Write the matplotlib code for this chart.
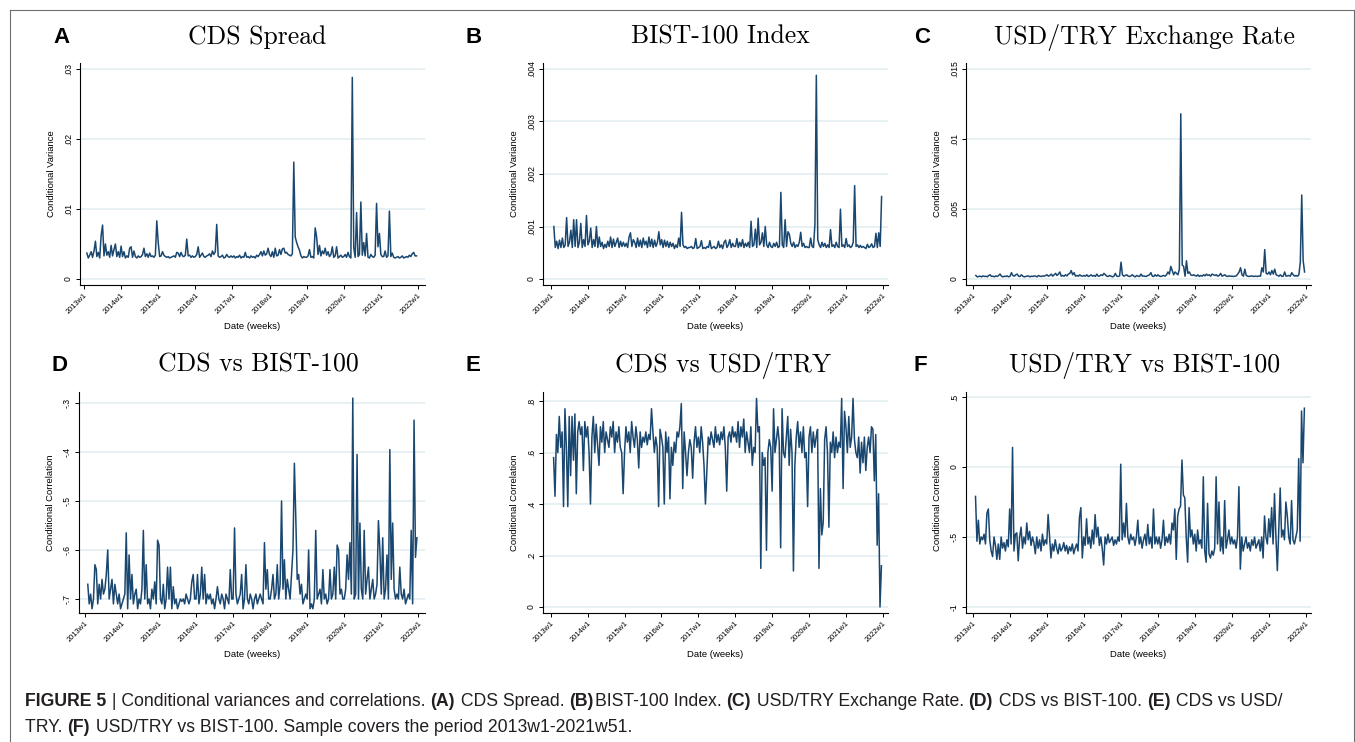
import numpy as np
import matplotlib
matplotlib.use('Agg')
from matplotlib import pyplot as plt
from matplotlib.lines import Line2D

# Biweekly readings, 2013w5 .. 2021w51 (one row per year)
YEARS = list(range(2013, 2022))
year_ticks = list(range(2013, 2023))
year_labels = ['%dw1' % y for y in year_ticks]

# conditional variances, in units of 1e-3
cds_var = [
    3.7, 3.0, 3.4, 3.9, 3.1, 4.0, 5.4, 3.2, 3.8, 3.0, 6.2, 7.7, 3.3, 5.0, 3.4, 3.9, 3.1, 4.8, 3.3, 4.2, 5.0, 3.2, 3.9, 3.1,
    4.7, 3.2, 3.9, 3.0, 3.3, 3.1, 4.4, 4.6, 3.1, 4.0, 3.2, 3.0, 3.3, 3.1, 3.2, 3.5, 4.4, 3.2, 3.6, 3.1, 3.7, 3.2, 3.3, 3.1, 3.4, 8.3,
    5.2, 3.2, 3.3, 3.9, 3.4, 3.2, 3.1, 3.2, 3.0, 3.1, 3.2, 3.3, 3.1, 3.8, 3.7, 3.2, 3.8, 3.3, 3.2, 3.4, 5.7, 3.3, 3.4, 3.1, 3.3, 3.1,
    3.2, 3.5, 4.6, 3.1, 3.4, 3.7, 3.2, 3.1, 3.3, 3.4, 3.6, 3.2, 4.0, 3.5, 3.9, 7.8, 3.3, 3.1, 3.2, 3.4, 3.0, 3.1, 3.5, 3.2, 3.1, 3.3,
    3.1, 3.3, 3.0, 3.2, 3.1, 3.4, 3.0, 3.2, 3.1, 3.8, 3.1, 3.2, 3.0, 3.3, 3.1, 3.2, 3.0, 3.4, 3.2, 3.5, 3.9, 3.3, 4.0, 3.4, 3.6, 4.4,
    3.5, 3.2, 3.9, 3.1, 4.4, 3.3, 3.4, 4.2, 3.5, 4.3, 4.4, 3.7, 3.8, 3.5, 3.4, 3.3, 3.6, 16.7, 6.0, 5.2, 4.6, 4.1, 3.3, 3.0, 3.2, 3.1,
    3.1, 3.3, 4.2, 3.1, 3.2, 3.0, 7.3, 6.0, 3.5, 4.8, 3.3, 4.0, 3.6, 4.4, 3.4, 3.9, 3.2, 3.5, 4.6, 3.1, 3.3, 4.6, 3.0, 3.2, 3.4, 3.1,
    3.2, 3.5, 3.1, 3.8, 3.2, 3.0, 28.8, 4.5, 3.1, 9.5, 3.2, 3.5, 11.0, 3.4, 5.2, 3.3, 6.5, 3.1, 3.0, 3.5, 3.2, 3.1, 3.4, 10.8, 4.6, 6.5,
    3.5, 3.2, 3.2, 4.0, 3.1, 3.3, 9.7, 3.2, 3.7, 3.1, 3.0, 3.1, 3.2, 3.0, 3.1, 3.3, 3.0, 3.1, 3.2, 3.1, 3.4, 3.2, 3.6, 3.8, 3.3, 3.3,
]
bist_var = [
    1.0, 0.6, 0.72, 0.58, 0.74, 0.6, 0.78, 0.6, 0.65, 1.17, 0.62, 0.7, 0.93, 0.6, 1.13, 0.62, 1.13, 0.6, 0.7, 1.06, 0.6, 0.75, 0.62, 1.21,
    0.65, 0.72, 0.97, 0.6, 0.75, 0.62, 1.0, 0.6, 0.8, 0.62, 0.7, 0.58, 0.66, 0.6, 0.72, 0.62, 0.8, 0.6, 0.76, 0.62, 0.7, 0.78, 0.6, 0.72, 0.62, 0.7,
    0.62, 0.68, 0.6, 0.8, 0.88, 0.62, 0.75, 0.7, 0.6, 0.78, 0.62, 0.74, 0.6, 0.78, 0.65, 0.72, 0.6, 0.8, 0.62, 0.76, 0.6, 0.74, 0.62, 0.7, 0.9, 0.65,
    0.75, 0.6, 0.74, 0.62, 0.72, 0.6, 0.7, 0.62, 0.68, 0.58, 0.65, 0.6, 0.78, 0.62, 1.27, 0.65, 0.6, 0.62, 0.58, 0.6, 0.6, 0.62, 0.58, 0.6, 0.77, 0.58,
    0.6, 0.62, 0.73, 0.58, 0.6, 0.58, 0.62, 0.6, 0.73, 0.58, 0.6, 0.62, 0.58, 0.6, 0.72, 0.6, 0.65, 0.58, 0.7, 0.74, 0.6, 0.65, 0.75, 0.6, 0.68, 0.62,
    0.62, 0.77, 0.6, 0.7, 0.62, 0.75, 0.6, 0.68, 0.62, 0.7, 0.6, 1.1, 0.62, 0.65, 0.95, 0.6, 1.16, 0.65, 0.7, 0.88, 0.62, 1.0, 0.65, 0.6, 0.7, 0.62,
    0.6, 0.68, 0.62, 0.7, 0.6, 0.62, 1.65, 0.65, 0.6, 1.13, 0.62, 0.9, 0.85, 0.68, 0.62, 0.7, 0.6, 0.65, 0.62, 0.7, 0.89, 0.62, 0.68, 0.6, 0.62, 0.6,
    0.6, 0.78, 0.62, 0.6, 1.04, 3.88, 0.75, 0.65, 0.6, 0.7, 0.62, 0.68, 0.6, 0.65, 0.6, 0.94, 0.62, 0.65, 0.6, 0.7, 0.62, 0.6, 1.33, 0.62, 0.65, 0.6,
    0.77, 0.62, 0.65, 0.6, 0.62, 0.7, 1.78, 0.62, 0.65, 0.6, 0.64, 0.6, 0.62, 0.6, 0.58, 0.66, 0.6, 0.62, 0.67, 0.6, 0.62, 0.87, 0.6, 0.88, 0.62, 1.57,
]
usd_var = [
    0.25, 0.15, 0.18, 0.2, 0.15, 0.22, 0.18, 0.2, 0.15, 0.25, 0.3, 0.18, 0.2, 0.15, 0.22, 0.18, 0.25, 0.35, 0.2, 0.15, 0.2, 0.18, 0.22, 0.15,
    0.2, 0.45, 0.25, 0.2, 0.3, 0.35, 0.2, 0.18, 0.3, 0.2, 0.15, 0.18, 0.2, 0.22, 0.15, 0.2, 0.18, 0.22, 0.2, 0.15, 0.25, 0.2, 0.18, 0.22, 0.2, 0.25,
    0.3, 0.2, 0.25, 0.35, 0.2, 0.3, 0.4, 0.25, 0.35, 0.5, 0.2, 0.25, 0.2, 0.3, 0.22, 0.35, 0.4, 0.6, 0.3, 0.45, 0.2, 0.25, 0.2, 0.3, 0.22, 0.2,
    0.25, 0.2, 0.3, 0.18, 0.22, 0.3, 0.2, 0.25, 0.18, 0.35, 0.2, 0.22, 0.3, 0.25, 0.4, 0.3, 0.2, 0.18, 0.25, 0.2, 0.15, 0.2, 0.4, 0.2, 0.18, 0.22,
    1.2, 0.3, 0.2, 0.25, 0.3, 0.2, 0.18, 0.22, 0.3, 0.2, 0.15, 0.25, 0.2, 0.18, 0.35, 0.2, 0.22, 0.18, 0.2, 0.25, 0.3, 0.45, 0.2, 0.18, 0.3, 0.2,
    0.3, 0.2, 0.18, 0.22, 0.25, 0.2, 0.3, 0.5, 0.35, 0.9, 0.6, 0.3, 0.5, 0.4, 0.3, 0.7, 11.8, 1.0, 0.9, 0.2, 1.3, 0.4, 0.5, 0.3, 0.25, 0.3,
    0.25, 0.2, 0.3, 0.18, 0.25, 0.2, 0.3, 0.22, 0.35, 0.25, 0.3, 0.2, 0.35, 0.3, 0.25, 0.3, 0.2, 0.25, 0.4, 0.2, 0.25, 0.3, 0.2, 0.18, 0.22, 0.2,
    0.2, 0.18, 0.2, 0.22, 0.35, 0.5, 0.8, 0.3, 0.2, 0.7, 0.25, 0.2, 0.18, 0.2, 0.22, 0.18, 0.2, 0.2, 0.18, 0.22, 0.2, 0.8, 0.5, 2.1, 0.4, 0.35,
    0.5, 0.3, 0.6, 0.35, 0.7, 0.3, 0.25, 0.2, 0.3, 0.18, 0.2, 0.5, 0.2, 0.22, 0.25, 0.2, 0.45, 0.3, 0.2, 0.25, 0.2, 0.3, 1.2, 6.0, 1.3, 0.5,
]

# conditional correlations
cds_bist = [
    -0.67, -0.71, -0.69, -0.72, -0.7, -0.63, -0.64, -0.71, -0.67, -0.7, -0.66, -0.69, -0.68, -0.65, -0.6, -0.7, -0.68, -0.66, -0.71, -0.67, -0.69, -0.71, -0.69, -0.72,
    -0.71, -0.7, -0.69, -0.565, -0.72, -0.61, -0.7, -0.65, -0.71, -0.69, -0.68, -0.72, -0.7, -0.71, -0.68, -0.56, -0.7, -0.63, -0.71, -0.7, -0.72, -0.68, -0.7, -0.665, -0.71, -0.58,
    -0.59, -0.7, -0.71, -0.67, -0.72, -0.7, -0.635, -0.7, -0.635, -0.72, -0.675, -0.71, -0.7, -0.72, -0.71, -0.7, -0.705, -0.7, -0.71, -0.69, -0.7, -0.71, -0.7, -0.665, -0.65, -0.7,
    -0.7, -0.65, -0.71, -0.69, -0.635, -0.7, -0.65, -0.71, -0.69, -0.7, -0.69, -0.71, -0.7, -0.72, -0.7, -0.675, -0.7, -0.71, -0.69, -0.7, -0.72, -0.69, -0.7, -0.71, -0.64, -0.7,
    -0.7, -0.555, -0.69, -0.71, -0.7, -0.69, -0.65, -0.72, -0.7, -0.63, -0.7, -0.71, -0.69, -0.7, -0.72, -0.7, -0.69, -0.71, -0.7, -0.69, -0.7, -0.71, -0.585, -0.68, -0.64, -0.7,
    -0.7, -0.68, -0.65, -0.7, -0.69, -0.63, -0.7, -0.67, -0.5, -0.68, -0.62, -0.7, -0.66, -0.68, -0.7, -0.65, -0.6, -0.423, -0.535, -0.66, -0.65, -0.69, -0.67, -0.71, -0.7, -0.69,
    -0.7, -0.6, -0.72, -0.71, -0.72, -0.7, -0.56, -0.7, -0.69, -0.68, -0.71, -0.64, -0.7, -0.69, -0.71, -0.7, -0.64, -0.7, -0.69, -0.635, -0.7, -0.59, -0.6, -0.69, -0.68, -0.7,
    -0.7, -0.68, -0.61, -0.66, -0.585, -0.69, -0.29, -0.7, -0.69, -0.405, -0.7, -0.545, -0.68, -0.7, -0.56, -0.69, -0.66, -0.635, -0.7, -0.68, -0.66, -0.7, -0.69, -0.67, -0.54, -0.6,
    -0.69, -0.575, -0.7, -0.68, -0.61, -0.7, -0.395, -0.66, -0.545, -0.68, -0.7, -0.69, -0.7, -0.635, -0.69, -0.7, -0.68, -0.71, -0.7, -0.69, -0.7, -0.56, -0.71, -0.335, -0.615, -0.575,
]
cds_usd = [
    0.58, 0.43, 0.67, 0.6, 0.74, 0.62, 0.68, 0.39, 0.77, 0.62, 0.39, 0.74, 0.51, 0.74, 0.57, 0.75, 0.44, 0.68, 0.72, 0.67, 0.7, 0.53, 0.72, 0.66,
    0.7, 0.6, 0.4, 0.66, 0.74, 0.6, 0.71, 0.63, 0.55, 0.7, 0.64, 0.72, 0.6, 0.68, 0.65, 0.62, 0.7, 0.66, 0.72, 0.6, 0.68, 0.64, 0.7, 0.62, 0.6, 0.44,
    0.6, 0.7, 0.64, 0.68, 0.6, 0.72, 0.66, 0.62, 0.7, 0.65, 0.54, 0.68, 0.62, 0.66, 0.64, 0.68, 0.63, 0.67, 0.65, 0.77, 0.68, 0.6, 0.66, 0.62, 0.39, 0.69,
    0.66, 0.62, 0.4, 0.68, 0.6, 0.66, 0.42, 0.62, 0.55, 0.64, 0.6, 0.68, 0.66, 0.7, 0.79, 0.46, 0.68, 0.6, 0.51, 0.6, 0.65, 0.62, 0.5, 0.64, 0.7, 0.62,
    0.66, 0.6, 0.7, 0.64, 0.55, 0.4, 0.53, 0.66, 0.63, 0.68, 0.65, 0.62, 0.7, 0.64, 0.67, 0.63, 0.68, 0.65, 0.7, 0.62, 0.45, 0.66, 0.68, 0.64, 0.7, 0.66,
    0.68, 0.64, 0.72, 0.62, 0.7, 0.66, 0.73, 0.6, 0.68, 0.64, 0.6, 0.7, 0.55, 0.62, 0.6, 0.81, 0.68, 0.7, 0.15, 0.6, 0.55, 0.58, 0.22, 0.6, 0.65, 0.62,
    0.45, 0.77, 0.6, 0.65, 0.7, 0.64, 0.23, 0.77, 0.6, 0.58, 0.66, 0.74, 0.55, 0.69, 0.6, 0.14, 0.55, 0.66, 0.72, 0.62, 0.68, 0.6, 0.7, 0.58, 0.6, 0.39,
    0.66, 0.7, 0.6, 0.68, 0.62, 0.66, 0.69, 0.15, 0.46, 0.28, 0.33, 0.65, 0.7, 0.6, 0.31, 0.64, 0.6, 0.68, 0.58, 0.66, 0.6, 0.64, 0.62, 0.81, 0.46, 0.76,
    0.7, 0.6, 0.74, 0.62, 0.66, 0.81, 0.65, 0.6, 0.58, 0.66, 0.52, 0.64, 0.56, 0.66, 0.53, 0.62, 0.66, 0.6, 0.7, 0.69, 0.49, 0.67, 0.24, 0.44, 0.0, 0.16,
]
usd_bist = [
    -0.21, -0.53, -0.38, -0.55, -0.5, -0.52, -0.48, -0.55, -0.33, -0.3, -0.52, -0.6, -0.64, -0.5, -0.56, -0.66, -0.55, -0.66, -0.5, -0.58, -0.54, -0.6, -0.52, -0.57,
    -0.3, -0.55, 0.14, -0.6, -0.48, -0.47, -0.67, -0.5, -0.43, -0.58, -0.5, -0.55, -0.4, -0.52, -0.46, -0.56, -0.5, -0.54, -0.62, -0.5, -0.58, -0.52, -0.6, -0.48, -0.56, -0.52,
    -0.55, -0.34, -0.5, -0.65, -0.55, -0.6, -0.52, -0.58, -0.62, -0.55, -0.6, -0.58, -0.54, -0.6, -0.56, -0.62, -0.57, -0.6, -0.55, -0.62, -0.58, -0.55, -0.6, -0.36, -0.29, -0.65,
    -0.5, -0.56, -0.37, -0.55, -0.5, -0.58, -0.45, -0.55, -0.34, -0.5, -0.43, -0.56, -0.5, -0.58, -0.7, -0.5, -0.55, -0.48, -0.54, -0.52, -0.5, -0.56, -0.52, -0.55, -0.5, -0.53,
    0.02, -0.52, -0.4, -0.5, -0.26, -0.5, -0.55, -0.48, -0.52, -0.5, -0.56, -0.5, -0.38, -0.55, -0.5, -0.58, -0.52, -0.48, -0.56, -0.41, -0.55, -0.5, -0.58, -0.3, -0.55, -0.5,
    -0.55, -0.5, -0.58, -0.52, -0.38, -0.56, -0.5, -0.54, -0.48, -0.55, -0.4, -0.45, -0.3, -0.66, -0.35, -0.3, -0.28, 0.05, -0.2, -0.22, -0.5, -0.68, -0.29, -0.5, -0.45, -0.55,
    -0.48, -0.6, -0.45, -0.55, -0.52, -0.58, -0.07, -0.6, -0.68, -0.26, -0.62, -0.65, -0.6, -0.63, -0.58, -0.07, -0.55, -0.25, -0.6, -0.5, -0.62, -0.24, -0.58, -0.52, -0.45, -0.55,
    -0.5, -0.55, -0.52, -0.58, -0.5, -0.14, -0.73, -0.5, -0.6, -0.55, -0.5, -0.58, -0.54, -0.6, -0.52, -0.56, -0.5, -0.58, -0.55, -0.52, -0.6, -0.5, -0.65, -0.35, -0.5, -0.55,
    -0.37, -0.5, -0.29, -0.55, -0.19, -0.5, -0.74, -0.45, -0.15, -0.5, -0.45, -0.52, -0.25, -0.35, -0.5, -0.55, -0.24, -0.52, -0.55, -0.5, -0.45, 0.06, -0.53, 0.4, 0.03, 0.42,
]

W, H = 1355, 742
LINE = '#1a476f'
GRID = '#e3edf0'
SANS = 'Liberation Sans'


def week_axis():
    t = []
    for year in YEARS:
        first = 5 if year == 2013 else 1
        for week in range(first, 52, 2):
            t.append(year + (week - 1) / 52.0)
    return np.array(t)


def frac_box(left, top, right, bottom):
    return [left / W, 1 - bottom / H, (right - left) / W, (bottom - top) / H]


def fx(px):
    return px / W


def fy(py):
    return 1 - py / H


def draw_runs(fig, x_px, y_px, runs, size):
    # caption with mixed bold / regular pieces laid end to end
    renderer = fig.canvas.get_renderer()
    x = fx(x_px)
    probe = fig.text(0, 0, 'x', fontsize=size, family=SANS)
    w_probe = probe.get_window_extent(renderer=renderer).width
    probe.remove()
    for text, weight in runs:
        fig.text(x, fy(y_px), text, fontsize=size, fontweight=weight,
                 family=SANS, color='#231f20', va='baseline', ha='left')
        m = fig.text(0, 0, text + 'x', fontsize=size, fontweight=weight, family=SANS)
        width = m.get_window_extent(renderer=renderer).width - w_probe
        m.remove()
        x += width / fig.bbox.width


def main():
    x = week_axis()
    for name, series in [('cds_var', cds_var), ('bist_var', bist_var), ('usd_var', usd_var),
                         ('cds_bist', cds_bist), ('cds_usd', cds_usd), ('usd_bist', usd_bist)]:
        if len(series) != len(x):
            raise ValueError('%s has %d values, expected %d' % (name, len(series), len(x)))

    panels = [
        dict(letter='A', title='CDS Spread', box=(80, 63, 425, 285),
             values=np.array(cds_var) / 1000, xlim=(2012.892, 2022.19), ylim=(-0.00086, 0.03086),
             yticks=[0, .01, .02, .03], ylabels=['0', '.01', '.02', '.03'],
             ylabel='Conditional Variance', letter_x=62, title_x=257, base=44),
        dict(letter='B', title='BIST-100 Index', box=(543, 63, 888, 285),
             values=np.array(bist_var) / 1000, xlim=(2012.783, 2022.135), ylim=(-0.000114, 0.004114),
             yticks=[0, .001, .002, .003, .004], ylabels=['0', '.001', '.002', '.003', '.004'],
             ylabel='Conditional Variance', letter_x=474, title_x=720, base=44),
        dict(letter='C', title='USD/TRY Exchange Rate', box=(966, 63, 1311, 285),
             values=np.array(usd_var) / 1000, xlim=(2012.81, 2022.135), ylim=(-0.00043, 0.01543),
             yticks=[0, .005, .01, .015], ylabels=['0', '.005', '.01', '.015'],
             ylabel='Conditional Variance', letter_x=922, title_x=1145, base=44),
        dict(letter='D', title='CDS vs BIST-100', box=(79, 392, 425, 613),
             values=np.array(cds_bist), xlim=(2012.84, 2022.18), ylim=(-0.7286, -0.2776),
             yticks=[-.7, -.6, -.5, -.4, -.3], ylabels=['-.7', '-.6', '-.5', '-.4', '-.3'],
             ylabel='Conditional Correlation', letter_x=60, title_x=258, base=372),
        dict(letter='E', title='CDS vs USD/TRY', box=(543, 392, 888, 613),
             values=np.array(cds_usd), xlim=(2012.79, 2022.14), ylim=(-0.0233, 0.835),
             yticks=[0, .2, .4, .6, .8], ylabels=['0', '.2', '.4', '.6', '.8'],
             ylabel='Conditional Correlation', letter_x=473, title_x=723, base=372),
        dict(letter='F', title='USD/TRY vs BIST-100', box=(966, 392, 1311, 613),
             values=np.array(usd_bist), xlim=(2012.82, 2022.14), ylim=(-1.043, 0.536),
             yticks=[-1, -.5, 0, .5], ylabels=['-1', '-.5', '0', '.5'],
             ylabel='Conditional Correlation', letter_x=920, title_x=1145, base=372),
    ]

    fig = plt.figure(figsize=(W / 100, H / 100), dpi=100)

    for p in panels:
        left, top, right, bottom = p['box']
        ax = fig.add_axes(frac_box(left, top, right, bottom))
        ax.plot(x, p['values'], color=LINE, lw=1.1)
        ax.set_xlim(p['xlim'])
        ax.set_ylim(p['ylim'])
        for v in p['yticks']:
            ax.axhline(v, color=GRID, lw=1.2, zorder=0)
        ax.set_yticks(p['yticks'], p['ylabels'], rotation=90, va='center',
                      fontsize=6.2, family=SANS)
        ax.set_xticks(year_ticks, year_labels, rotation=45, ha='right',
                      rotation_mode='anchor', fontsize=5.4, family=SANS)
        ax.tick_params(length=3, width=0.7, pad=2)
        for side in ('top', 'right'):
            ax.spines[side].set_visible(False)
        for side in ('left', 'bottom'):
            ax.spines[side].set_linewidth(0.8)
        ax.set_ylabel(p['ylabel'], fontsize=6.8, family=SANS)
        ax.yaxis.set_label_coords(-24.0 / (right - left), 0.5)
        ax.set_xlabel('Date (weeks)', fontsize=6.8, family=SANS)
        ax.xaxis.set_label_coords(0.5, -37.0 / (bottom - top))

        fig.text(fx(p['title_x']), fy(p['base']), p['title'], family='cmr10',
                 fontsize=18.5, ha='center', va='baseline')
        fig.text(fx(p['letter_x']), fy(p['base'] - 1), p['letter'], family=SANS,
                 fontweight='bold', fontsize=16, ha='center', va='baseline')

    # frame around the figure
    frame = dict(color='#6d6e71', lw=0.8, transform=fig.transFigure)
    fig.add_artist(Line2D([fx(9.5), fx(9.5)], [fy(9.5), 0], **frame))
    fig.add_artist(Line2D([fx(9.5), 1], [fy(9.5), fy(9.5)], **frame))
    fig.add_artist(Line2D([fx(1353.5), fx(1353.5)], [fy(9.5), 0], **frame))

    draw_runs(fig, 25, 705.5, [
        ('FIGURE 5', 'bold'), (' | Conditional variances and correlations. ', 'normal'),
        ('(A)', 'bold'), (' CDS Spread. ', 'normal'),
        ('(B)', 'bold'), ('BIST-100 Index. ', 'normal'),
        ('(C)', 'bold'), (' USD/TRY Exchange Rate. ', 'normal'),
        ('(D)', 'bold'), (' CDS vs BIST-100. ', 'normal'),
        ('(E)', 'bold'), (' CDS vs USD/', 'normal'),
    ], 12.7)
    draw_runs(fig, 25, 732, [
        ('TRY. ', 'normal'), ('(F)', 'bold'),
        (' USD/TRY vs BIST-100. Sample covers the period 2013w1-2021w51.', 'normal'),
    ], 12.7)

    fig.savefig('out.png', dpi=100)


if __name__ == '__main__':
    main()
